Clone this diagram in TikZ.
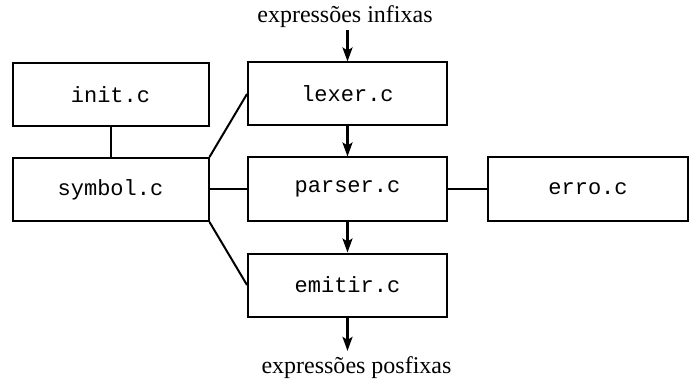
\documentclass[tikz,border=0pt]{standalone}
\usepackage{fontspec}
\setmainfont{Liberation Serif}
\newfontfamily\codefont{Liberation Mono}
\usetikzlibrary{arrows.meta}
\begin{document}
\begin{tikzpicture}[x=1pt,y=-1pt,
  filebox/.style={draw,line width=2pt,minimum width=196pt,minimum height=63pt,inner sep=0pt,font=\codefont\fontsize{22}{24}\selectfont},
  conn/.style={line width=2pt},
  flow/.style={line width=2.4pt,-{Stealth[length=14pt,width=10pt,inset=3pt]}},
  lbl/.style={font=\fontsize{24}{28}\selectfont,inner sep=2pt}]
\useasboundingbox (0,0) rectangle (690,382);
\node[filebox] (init) at (110.5,94.5) {init.c};
\node[filebox] (symbol) at (110.5,189.5) {symbol.c};
\node[filebox,minimum width=199pt] (lexer) at (347.5,94) {lexer.c};
\node[filebox,minimum width=199pt] (parser) at (347.5,189) {parser.c};
\node[filebox,minimum width=199pt] (emitir) at (347.5,285) {emitir.c};
\node[filebox,minimum width=200pt] (erro) at (588,189) {erro.c};
\node[lbl,anchor=base] (infix) at (345,23) {expressões infixas};
\node[lbl,anchor=base,inner sep=5pt] (posfix) at (356.5,373) {expressões posfixas};
\draw[conn] (init.south) -- (symbol.north);
\draw[conn] (symbol.north east) -- (lexer.west);
\draw[conn] (symbol.east |- parser.west) -- (parser.west);
\draw[conn] (symbol.south east) -- (emitir.west);
\draw[conn] (parser.east) -- (erro.west);
\draw[flow] (lexer.north |- infix.south) -- (lexer.north);
\draw[flow] (lexer.south) -- (parser.north);
\draw[flow] (parser.south) -- (emitir.north);
\draw[flow] (emitir.south) -- (emitir.south |- posfix.north);
\end{tikzpicture}
\end{document}
